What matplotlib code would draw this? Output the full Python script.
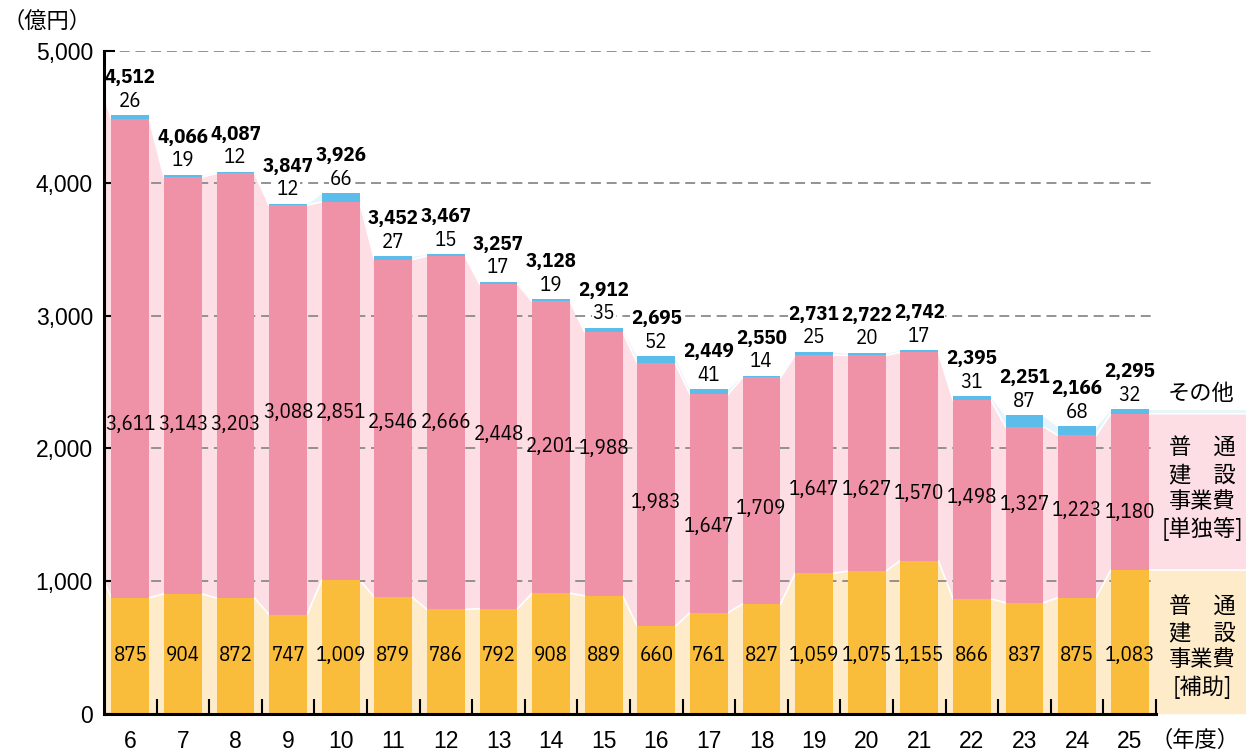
import matplotlib

matplotlib.use("Agg")

import matplotlib.pyplot as plt
import numpy as np

# 年度別 普通建設事業費（億円）
years = ["6", "7", "8", "9", "10", "11", "12", "13", "14", "15",
         "16", "17", "18", "19", "20", "21", "22", "23", "24", "25"]
hojo = [875, 904, 872, 747, 1009, 879, 786, 792, 908, 889,
        660, 761, 827, 1059, 1075, 1155, 866, 837, 875, 1083]
tandoku = [3611, 3143, 3203, 3088, 2851, 2546, 2666, 2448, 2201, 1988,
           1983, 1647, 1709, 1647, 1627, 1570, 1498, 1327, 1223, 1180]
sonota = [26, 19, 12, 12, 66, 27, 15, 17, 19, 35,
          52, 41, 14, 25, 20, 17, 31, 87, 68, 32]
totals = [4512, 4066, 4087, 3847, 3926, 3452, 3467, 3257, 3128, 2912,
          2695, 2449, 2550, 2731, 2722, 2742, 2395, 2251, 2166, 2295]
# 前年度（5年度）の帯の始点
start_hojo, start_tandoku, start_sonota = 1000, 3660, 20

# ラベル位置（億円単位）
pink_label_y = [2184, 2184, 2184, 2275, 2275, 2199, 2199, 2109, 2018, 2003,
                1596, 1408, 1551, 1687, 1687, 1657, 1634, 1574, 1529, 1521]
orange_label_y = 440

C_ORANGE = "#F9BD3B"
C_PINK = "#EF91A7"
C_BLUE = "#5CBDEB"
L_ORANGE = "#FEEBCA"
L_PINK = "#FCDEE4"
L_BLUE = "#E6F4FB"

NUM = ["IBM Plex Sans Condensed", "Liberation Sans Narrow", "DejaVu Sans"]
JP = ["Noto Sans CJK JP", "DejaVu Sans"]
TICK = ["Liberation Sans", "DejaVu Sans"]

h = np.array(hojo, dtype=float)
t = np.array(tandoku, dtype=float)
s = np.array(sonota, dtype=float)
c1 = h
c2 = h + t
c3 = h + t + s
n = len(years)
x = np.arange(n)
w = 0.72

fig = plt.figure(figsize=(12.46, 7.53), dpi=100)
ax = fig.add_axes([0.0835, 0.0522, 0.8443, 0.8805])
ax.set_xlim(-0.5, n - 0.5)
ax.set_ylim(0, 5000)


def profile(vals, start):
    px = [-0.5]
    py = [start]
    for i, v in enumerate(vals):
        px += [i - w / 2, i + w / 2]
        py += [v, v]
    px.append(n + 2)
    py.append(vals[-1])
    return np.array(px), np.array(py)


px, p1 = profile(c1, start_hojo)
_, p2 = profile(c2, start_hojo + start_tandoku)
_, p3 = profile(c3, start_hojo + start_tandoku + start_sonota)

ax.fill_between(px, 0, p1, color=L_ORANGE, lw=0, zorder=1, clip_on=False)
ax.fill_between(px, p1, p2, color=L_PINK, lw=0, zorder=1, clip_on=False)
ax.fill_between(px, p2, p3, color=L_BLUE, lw=0, zorder=1, clip_on=False)
for p in (p1, p2, p3):
    ax.plot(px, p, color="white", lw=1.2, zorder=1.2, clip_on=False)

for yv in range(1000, 5001, 1000):
    ax.axhline(yv, color="#8a8a8a", lw=1.3, dashes=(5.5, 3.2), zorder=1.5)

ax.bar(x, h, w, color=C_ORANGE, zorder=2)
ax.bar(x, t, w, bottom=h, color=C_PINK, zorder=2)
ax.bar(x, s, w, bottom=c2, color=C_BLUE, zorder=2)

for i in range(n):
    ax.text(x[i], orange_label_y, f"{hojo[i]:,}", ha="center", va="center",
            fontsize=15, family=NUM, zorder=3)
    ax.text(x[i], pink_label_y[i], f"{tandoku[i]:,}", ha="center", va="center",
            fontsize=15, family=NUM, zorder=3)
    ax.annotate(f"{sonota[i]}", (x[i], c3[i]), xytext=(0, 10), textcoords="offset points",
                ha="center", va="center", fontsize=15, family=NUM, zorder=3,
                bbox=dict(facecolor="white", edgecolor="none", pad=0.5))
    ax.annotate(f"{totals[i]:,}", (x[i], c3[i]), xytext=(0, 27), textcoords="offset points",
                ha="center", va="center", fontsize=15, family=NUM, fontweight="bold",
                zorder=3, bbox=dict(facecolor="white", edgecolor="none", pad=0.5))

for sp in ("top", "right"):
    ax.spines[sp].set_visible(False)
for sp in ("left", "bottom"):
    ax.spines[sp].set_linewidth(2.2)
    ax.spines[sp].set_zorder(4)

ax.set_yticks(range(0, 5001, 1000))
ax.set_yticklabels([f"{v:,}" for v in range(0, 5001, 1000)], family=TICK, fontsize=16.5)
ax.tick_params(axis="y", direction="in", length=8, width=1.5, pad=8)
ax.set_xticks(x)
ax.set_xticklabels(years, family=TICK, fontsize=16.5)
ax.tick_params(axis="x", which="major", length=0, pad=12)
ax.set_xticks(np.arange(n) + 0.5, minor=True)
ax.tick_params(axis="x", which="minor", direction="in", length=11, width=1.5)

fig.text(0.002, 0.971, "（億円）", family=JP, fontsize=16, ha="left", va="center")
fig.text(0.995, 0.017, "（年度）", family=JP, fontsize=16, ha="right", va="center")
fig.text(0.964, 0.478, "その他", family=JP, fontsize=16, ha="center", va="center")
fig.text(0.965, 0.351, "普\u3000通\n建\u3000設\n事業費\n[単独等]", family=JP, fontsize=16,
         ha="center", va="center", linespacing=1.22)
fig.text(0.965, 0.141, "普\u3000通\n建\u3000設\n事業費\n[補助]", family=JP, fontsize=16,
         ha="center", va="center", linespacing=1.22)

fig.savefig("out.png", dpi=100)
